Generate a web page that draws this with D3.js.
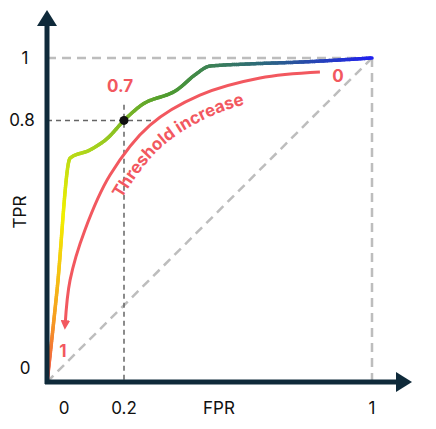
<!DOCTYPE html>
<html><head><meta charset="utf-8">
<script src="https://cdnjs.cloudflare.com/ajax/libs/d3/7.8.5/d3.min.js"></script>
<style>body{margin:0;background:#fff}text{font-family:Inter,"Open Sans",sans-serif}</style>
</head><body>
<svg id="c" width="436" height="429"></svg>
<script>
// ROC curve (FPR, TPR)
const rocFpr = [-0.048, -0.016, 0.026, 0.09, 0.148, 0.2, 0.252, 0.374, 0.429, 0.477, 0.606, 0.77, 1];
const rocTpr = [-0.038, 0.256, 0.679, 0.705, 0.744, 0.8, 0.846, 0.9, 0.946, 0.974, 0.981, 0.987, 1];
// threshold arrow
const arrFpr = [0.832, 0.639, 0.445, 0.284, 0.155, 0.074, 0.026, 0.01];
const arrTpr = [0.955, 0.936, 0.881, 0.785, 0.625, 0.449, 0.288, 0.144];
const xTicks = [0, 0.2, 1];
const yTicks = [0, 0.8, 1];

const svg = d3.select('#c');
const x = d3.scaleLinear().domain([0, 1]).range([62, 372]);
const y = d3.scaleLinear().domain([0, 1]).range([370, 58]);
const ox = 47, oy = 382;
const navy = '#0f2a3a', red = '#f2585f';

svg.append('defs').html(`<marker id="ah" viewBox="0 0 10 10" refX="5" refY="5" markerWidth="3.2" markerHeight="3.2" orient="auto"><path d="M0,0L10,5L0,10z" fill="${red}"/></marker>`);

// reference dashes
const g = svg.append('g').attr('fill', 'none');
g.append('line').attr('x1', ox).attr('y1', y(1)).attr('x2', x(1)).attr('y2', y(1)).attr('stroke', '#bdbdbd').attr('stroke-width', 2.5).attr('stroke-dasharray', '9,6');
g.append('line').attr('x1', x(1)).attr('y1', y(1)).attr('x2', x(1)).attr('y2', oy).attr('stroke', '#bdbdbd').attr('stroke-width', 2.5).attr('stroke-dasharray', '9,6');
g.append('line').attr('x1', ox).attr('y1', oy).attr('x2', x(1)).attr('y2', y(1)).attr('stroke', '#bdbdbd').attr('stroke-width', 2.5).attr('stroke-dasharray', '9,6');
g.append('line').attr('x1', ox).attr('y1', y(0.8)).attr('x2', x(0.3)).attr('y2', y(0.8)).attr('stroke', '#666').attr('stroke-width', 1.5).attr('stroke-dasharray', '5,4');
g.append('line').attr('x1', x(0.2)).attr('y1', y(0.85)).attr('x2', x(0.2)).attr('y2', oy).attr('stroke', '#666').attr('stroke-width', 1.5).attr('stroke-dasharray', '5,4');

// threshold arrow
const arrPts = arrFpr.map((v, i) => [x(v), y(arrTpr[i])]);
svg.append('path').attr('d', d3.line().curve(d3.curveCatmullRom)(arrPts))
  .attr('fill', 'none').attr('stroke', red).attr('stroke-width', 3).attr('marker-end', 'url(#ah)');
// text path below/right of the arrow
const txtPts = arrPts.map(p => [p[0] + 14, p[1] + 20]).reverse();
svg.append('path').attr('id', 'tp').attr('d', d3.line().curve(d3.curveCatmullRom)(txtPts)).attr('fill', 'none');
svg.append('text').attr('font-size', 17).attr('font-weight', 700).attr('fill', red)
  .append('textPath').attr('href', '#tp').attr('startOffset', '38%').text('Threshold increase');

// ROC gradient curve
const rocPath = svg.append('path').attr('d', d3.line().curve(d3.curveMonotoneX)(rocFpr.map((v, i) => [x(v), y(rocTpr[i])])))
  .attr('fill', 'none').attr('stroke', 'none');
const len = rocPath.node().getTotalLength();
const col = d3.scaleLinear().domain([0, 0.12, 0.3, 0.45, 0.62, 0.8, 1])
  .range(['#f0504a', '#f6a020', '#f2f000', '#a6d21e', '#4d9a30', '#2d6a7a', '#2020f0']);
const N = 300;
for (let i = 0; i < N; i++) {
  const a = rocPath.node().getPointAtLength(len * i / N), b = rocPath.node().getPointAtLength(len * (i + 1) / N);
  svg.append('line').attr('x1', a.x).attr('y1', a.y).attr('x2', b.x).attr('y2', b.y)
    .attr('stroke', col(i / N)).attr('stroke-width', 3.5).attr('stroke-linecap', 'round');
}
svg.append('circle').attr('cx', x(0.2)).attr('cy', y(0.8)).attr('r', 4.5).attr('fill', '#111');

// axes
svg.append('line').attr('x1', ox).attr('y1', oy + 2).attr('x2', ox).attr('y2', 24).attr('stroke', navy).attr('stroke-width', 5);
svg.append('path').attr('d', `M${ox - 10},26L${ox},10L${ox + 10},26z`).attr('fill', navy);
svg.append('line').attr('x1', ox - 2).attr('y1', oy).attr('x2', 398).attr('y2', oy).attr('stroke', navy).attr('stroke-width', 5);
svg.append('path').attr('d', `M396,${oy - 10}L412,${oy}L396,${oy + 10}z`).attr('fill', navy);

// labels
const t = (px, py, s) => svg.append('text').attr('x', px).attr('y', py).attr('text-anchor', 'middle').attr('font-size', 17).attr('fill', '#111').text(s);
xTicks.forEach(v => t(v === 0 ? 64 : x(v), 414, v));
yTicks.forEach(v => t(v === 0.8 ? 22 : 25, v === 0 ? 374 : y(v) + 6, v));
t(219, 414, 'FPR');
svg.append('text').attr('transform', 'translate(26,212) rotate(-90)').attr('text-anchor', 'middle').attr('font-size', 17).attr('fill', '#111').text('TPR');
const rt = (px, py, s) => svg.append('text').attr('x', px).attr('y', py).attr('text-anchor', 'middle').attr('font-size', 17).attr('font-weight', 700).attr('fill', red).text(s);
rt(120, 92, '0.7'); rt(338, 82, '0'); rt(63, 357, '1');
</script>
</body></html>
